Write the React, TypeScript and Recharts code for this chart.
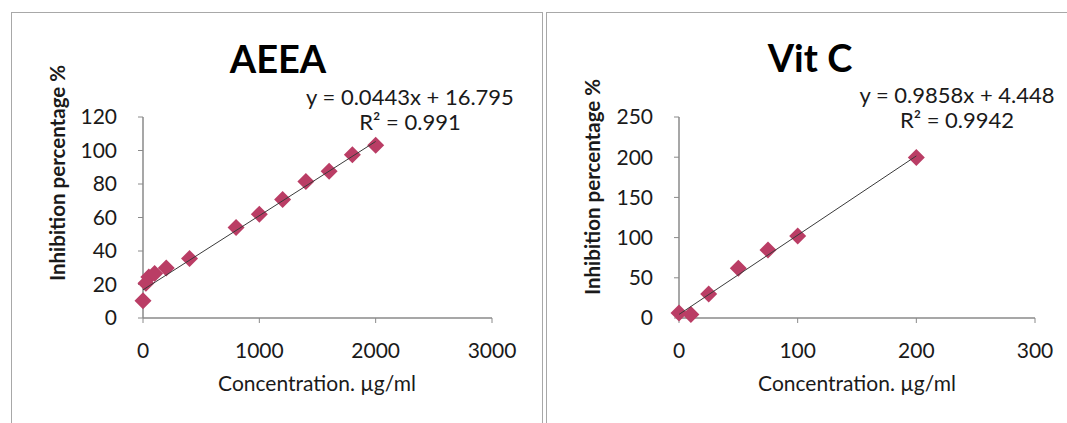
import React from "react";
import { ScatterChart, Scatter, XAxis, YAxis } from "recharts";

// AEEA data
const aeeaConc = [0, 25, 50, 100, 200, 400, 800, 1000, 1200, 1400, 1600, 1800, 2000];
const aeeaInhib = [10.3, 20.8, 24.5, 26.5, 29.8, 35.5, 54, 62, 70.8, 81.5, 87.6, 97.5, 103.2];
const aeeaSlope = 0.0443;
const aeeaIntercept = 16.795;
const aeeaXTicks = [0, 1000, 2000, 3000];
const aeeaYTicks = [0, 20, 40, 60, 80, 100, 120];

// Vit C data
const vitcConc = [0, 10, 25, 50, 75, 100, 200];
const vitcInhib = [6.2, 4.2, 30, 62, 84.7, 102, 199.5];
const vitcSlope = 0.9858;
const vitcIntercept = 4.448;
const vitcXTicks = [0, 100, 200, 300];
const vitcYTicks = [0, 50, 100, 150, 200, 250];

const FONT = "Lato, 'Open Sans', sans-serif";
const TEXT = "#1a1a1a";
const AXIS = "#8a8a8a";
const MARK = "#BA3D65";

const Diamond = (props: any) => {
  const { cx, cy } = props;
  if (cx == null || cy == null) return null;
  const r = 8.5;
  return (
    <polygon
      points={`${cx},${cy - r} ${cx + r},${cy} ${cx},${cy + r} ${cx - r},${cy}`}
      fill={MARK}
    />
  );
};

const NoShape = () => null;

function Panel(props: {
  conc: number[];
  inhib: number[];
  slope: number;
  intercept: number;
  xTicks: number[];
  yTicks: number[];
  width: number;
  marginLeft: number;
  marginRight: number;
}) {
  const pts = props.conc.map((c, i) => ({ x: c, y: props.inhib[i] }));
  const maxX = Math.max(...props.conc);
  const trend = [
    { x: 0, y: props.intercept },
    { x: maxX, y: props.slope * maxX + props.intercept },
  ];
  const xMax = props.xTicks[props.xTicks.length - 1];
  const yMax = props.yTicks[props.yTicks.length - 1];
  const tickStyle = { fill: TEXT, fontSize: 21, fontFamily: FONT };
  return (
    <ScatterChart
      width={props.width}
      height={423}
      margin={{ top: 117, right: props.marginRight, left: props.marginLeft, bottom: 75 }}
    >
      <XAxis
        type="number"
        dataKey="x"
        domain={[0, xMax]}
        ticks={props.xTicks}
        interval={0}
        height={30}
        stroke={AXIS}
        tickSize={5}
        tickMargin={20}
        tick={tickStyle}
        tickLine={{ stroke: AXIS }}
        axisLine={{ stroke: AXIS, strokeWidth: 1.5 }}
      />
      <YAxis
        type="number"
        dataKey="y"
        domain={[0, yMax]}
        ticks={props.yTicks}
        interval={0}
        width={60}
        stroke={AXIS}
        tickSize={5}
        tickMargin={21}
        tick={tickStyle}
        tickLine={{ stroke: AXIS }}
        axisLine={{ stroke: AXIS, strokeWidth: 1.5 }}
      />
      <Scatter data={pts} shape={<Diamond />} isAnimationActive={false} />
      <Scatter
        data={trend}
        line={{ stroke: "#3a3a3a", strokeWidth: 1 }}
        shape={<NoShape />}
        isAnimationActive={false}
      />
    </ScatterChart>
  );
}

export default function App() {
  return (
    <div
      style={{
        position: "fixed",
        left: 0,
        top: 0,
        width: 1067,
        height: 423,
        background: "#ffffff",
        overflow: "hidden",
        fontFamily: FONT,
      }}
    >
      {/* panel frames */}
      <div
        style={{
          position: "absolute",
          left: 11,
          top: 12,
          width: 532,
          height: 430,
          border: "1.5px solid #a8a8a8",
          boxSizing: "border-box",
        }}
      />
      <div
        style={{
          position: "absolute",
          left: 546,
          top: 12,
          width: 540,
          height: 430,
          border: "1.5px solid #a8a8a8",
          boxSizing: "border-box",
        }}
      />
      <div style={{ position: "absolute", left: 0, top: 0 }}>
        <Panel
          conc={aeeaConc}
          inhib={aeeaInhib}
          slope={aeeaSlope}
          intercept={aeeaIntercept}
          xTicks={aeeaXTicks}
          yTicks={aeeaYTicks}
          width={540}
          marginLeft={83}
          marginRight={48}
        />
      </div>
      <div style={{ position: "absolute", left: 540, top: 0 }}>
        <Panel
          conc={vitcConc}
          inhib={vitcInhib}
          slope={vitcSlope}
          intercept={vitcIntercept}
          xTicks={vitcXTicks}
          yTicks={vitcYTicks}
          width={527}
          marginLeft={79}
          marginRight={32}
        />
      </div>
      <svg
        width={1067}
        height={423}
        style={{ position: "absolute", left: 0, top: 0, pointerEvents: "none" }}
      >
        <g fontFamily={FONT} fill={TEXT}>
          {/* AEEA */}
          <text x={278} y={73} textAnchor="middle" fontSize={38} fontWeight={700} fill="#000">
            AEEA
          </text>
          <text x={410} y={105} textAnchor="middle" fontSize={22}>
            y = 0.0443x + 16.795
          </text>
          <text x={410} y={130} textAnchor="middle" fontSize={22}>
            R² = 0.991
          </text>
          <text
            transform="translate(65,173) rotate(-90)"
            textAnchor="middle"
            fontSize={20.5}
            fontWeight={700}
          >
            Inhibition percentage %
          </text>
          <text x={317} y={391} textAnchor="middle" fontSize={21}>
            Concentration. µg/ml
          </text>

          {/* Vit C */}
          <text x={810} y={72} textAnchor="middle" fontSize={38} fontWeight={700} fill="#000">
            Vit C
          </text>
          <text x={957} y={103} textAnchor="middle" fontSize={22}>
            y = 0.9858x + 4.448
          </text>
          <text x={957} y={128} textAnchor="middle" fontSize={22}>
            R² = 0.9942
          </text>
          <text
            transform="translate(600,187) rotate(-90)"
            textAnchor="middle"
            fontSize={20.5}
            fontWeight={700}
          >
            Inhibition percentage %
          </text>
          <text x={857} y={391} textAnchor="middle" fontSize={21}>
            Concentration. µg/ml
          </text>
        </g>
      </svg>
    </div>
  );
}
